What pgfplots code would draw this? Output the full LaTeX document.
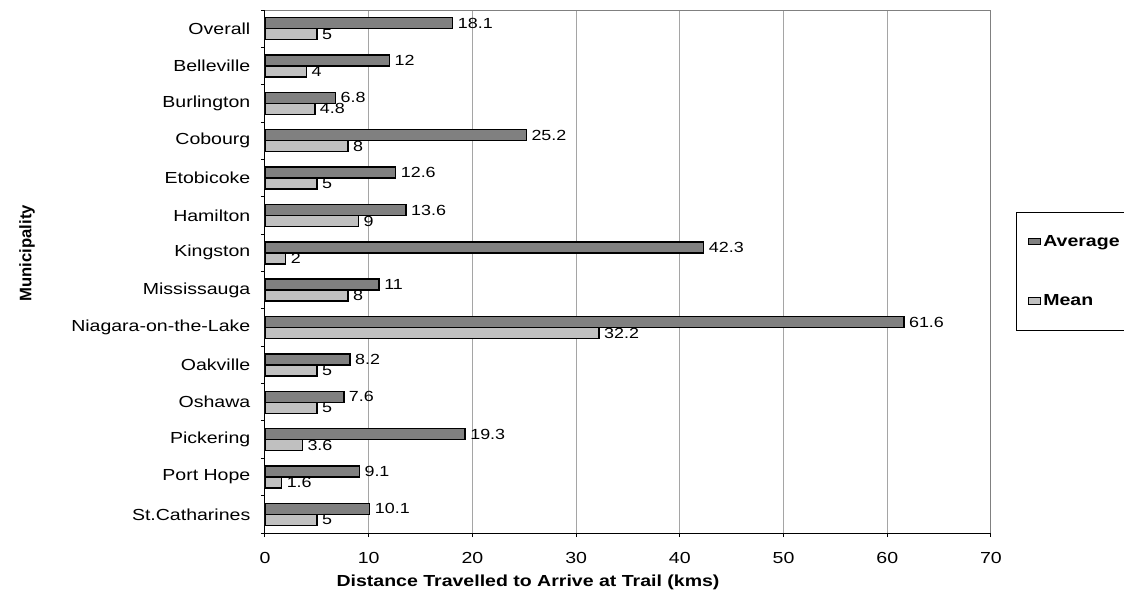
\documentclass[border=0pt]{standalone}
\usepackage{fontspec}
\setmainfont{Liberation Sans}[FakeStretch=1.22]
\newfontfamily\plainfont{Liberation Sans}
\usepackage{pgfplots}
\pgfplotsset{compat=1.18}
\definecolor{darkbar}{RGB}{128,128,128}
\definecolor{lightbar}{RGB}{192,192,192}
\definecolor{gridc}{RGB}{165,165,165}
\definecolor{framec}{RGB}{128,128,128}
\begin{document}
\begin{tikzpicture}
\path[use as bounding box] (-198.75pt,-48pt) rectangle (644.25pt,399.75pt);
\begin{axis}[
  at={(0,0)}, anchor=south west,
  scale only axis, width=544.5pt, height=392.25pt,
  xbar, bar width=8.25pt,
  xmin=0, xmax=70, xtick={0,10,...,70},
  ymin=-0.5, ymax=13.5,
  ytick={-0.5,0.5,...,13.5}, yticklabels={},
  extra y ticks={0,1,...,13},
  extra y tick labels={St.Catharines,Port Hope,Pickering,Oshawa,Oakville,Niagara-on-the-Lake,Mississauga,Kingston,Hamilton,Etobicoke,Cobourg,Burlington,Belleville,Overall},
  extra y tick style={major tick length=0pt},
  axis x line*=bottom, axis y line*=left,
  axis line style={black, line width=0.75pt},
  tick align=outside, major tick length=3pt,
  tick style={black, line width=0.75pt},
  xmajorgrids, major grid style={gridc, line width=0.75pt},
  /pgf/number format/assume math mode=true,
  tick label style={font=\fontsize{12}{14}\selectfont},
  xticklabel style={yshift=-8pt},
  yticklabel style={xshift=-7.5pt},
  xlabel={Distance Travelled to Arrive at Trail (kms)},
  xlabel style={at={(axis description cs:0.3623,-0.0937)}, anchor=center, font=\bfseries\fontsize{12}{14}\selectfont},
  ylabel={Municipality},
  ylabel style={at={(axis description cs:-0.3278,0.535)}, anchor=center, font=\plainfont\bfseries\fontsize{12.5}{14}\selectfont},
  nodes near coords,
  nodes near coords style={font=\fontsize{11}{12}\selectfont, black, anchor=west},
  legend style={at={(rel axis cs:1.0351,0.6138)}, anchor=north west, draw=black, line width=0.75pt,
    inner xsep=8pt, inner ysep=15pt, row sep=31pt, font=\bfseries\fontsize{12}{14}\selectfont},
  legend cell align=left,
]
\addplot[fill=darkbar, draw=black, line width=1.1pt, bar shift=4.125pt,
  legend image code/.code={\draw[fill=darkbar, draw=black, line width=0.75pt] (0pt,-2.5pt) rectangle (9pt,2.5pt);}]
  coordinates {(18.1,13) (12,12) (6.8,11) (25.2,10) (12.6,9) (13.6,8) (42.3,7) (11,6) (61.6,5) (8.2,4) (7.6,3) (19.3,2) (9.1,1) (10.1,0)};
\addlegendentry{Average}
\addplot[fill=lightbar, draw=black, line width=1.1pt, bar shift=-4.125pt,
  legend image code/.code={\draw[fill=lightbar, draw=black, line width=0.75pt] (0pt,-2.5pt) rectangle (9pt,2.5pt);}]
  coordinates {(5,13) (4,12) (4.8,11) (8,10) (5,9) (9,8) (2,7) (8,6) (32.2,5) (5,4) (5,3) (3.6,2) (1.6,1) (5,0)};
\addlegendentry{Mean}
\draw[framec, line width=1.5pt] (rel axis cs:0,1) -- (rel axis cs:1,1) -- (rel axis cs:1,0);
\end{axis}
\end{tikzpicture}
\end{document}
